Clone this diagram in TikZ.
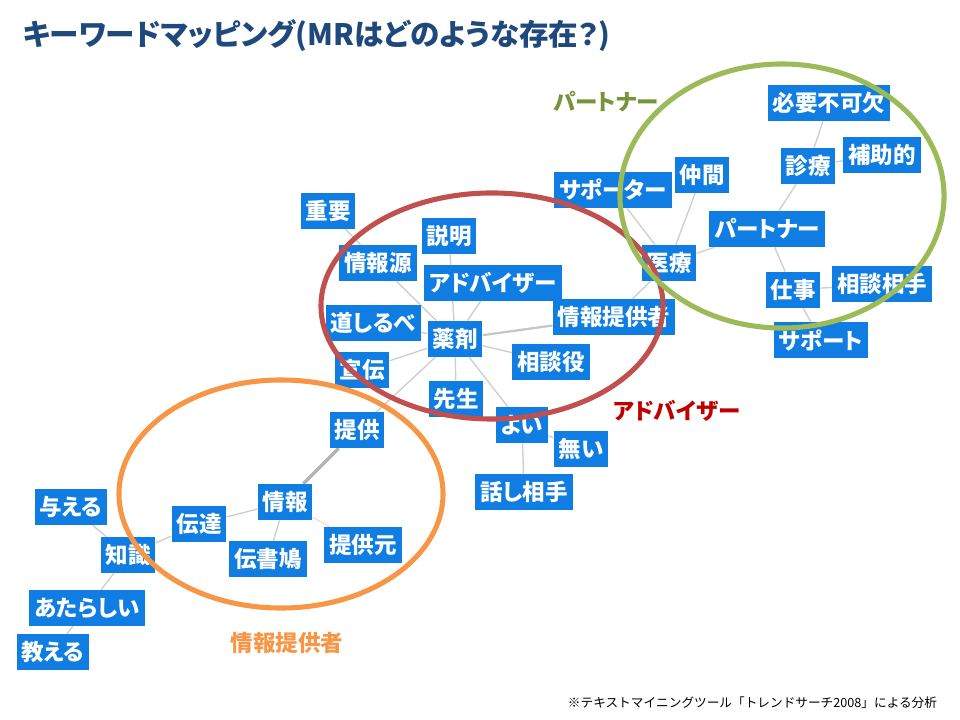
\documentclass[tikz,border=0pt]{standalone}
\usepackage{fontspec}
\usepackage{xcolor}
\newfontfamily\jpfont[RawFeature=+palt]{Noto Sans CJK JP}
\newfontfamily\notefont{Noto Sans CJK JP}
\usetikzlibrary{backgrounds}
\definecolor{kwblue}{HTML}{0F7DE2}
\definecolor{linkgray}{HTML}{CFCFCF}
\definecolor{titleblue}{HTML}{1F497D}
\definecolor{advring}{HTML}{C0504D}
\definecolor{advtext}{HTML}{C00000}
\definecolor{ptring}{HTML}{9BBB59}
\definecolor{pttext}{HTML}{77933C}
\definecolor{inforing}{HTML}{F79646}
\tikzset{
  kw/.style={rectangle, fill=kwblue, text=white, font=\jpfont\bfseries\fontsize{16}{18}\selectfont,
    minimum height=25.6pt, inner xsep=3.5pt, inner ysep=0pt},
  link/.style={draw=linkgray, line width=1pt},
  midlink/.style={draw=gray!45, line width=1.6pt},
  strong/.style={draw=gray!60, line width=2.4pt},
  ring/.style={line width=3.6pt},
  grp/.style={font=\jpfont\bfseries\fontsize{16}{18}\selectfont}
}

\begin{document}
\begin{tikzpicture}[x=0.025cm, y=-0.025cm]
\useasboundingbox (0,0) rectangle (960,720);
\node[anchor=west, text=titleblue, font=\jpfont\bfseries\fontsize{21}{25}\selectfont] (title) at (18,36)
  {キーワードマッピング(MRはどのような存在？)};
% adviser cluster
\node[kw] (juyo) at (328,211) {重要};
\node[kw] (setsumei) at (449,236) {説明};
\node[kw] (johogen) at (378,263) {情報源};
\node[kw] (adviser) at (493,283) {アドバイザー};
\node[kw] (michi) at (373,323) {道しるべ};
\node[kw] (yakuzai) at (455,339) {薬剤};
\node[kw] (teikyosha) at (614,317) {情報提供者};
\node[kw] (sodanyaku) at (551,362) {相談役};
\node[kw] (senden) at (362,370) {宣伝};
\node[kw] (sensei) at (456,399) {先生};
\node[kw] (yoi) at (522,425) {よい};
\node[kw] (nai) at (581,449) {無い};
\node[kw] (hanashi) at (524,492) {話し相手};
% information cluster
\node[kw] (teikyo) at (357,430) {提供};
\node[kw] (joho) at (285,502) {情報};
\node[kw] (dentatsu) at (199,524) {伝達};
\node[kw] (densho) at (268,559) {伝書鳩};
\node[kw] (teikyomoto) at (363,545) {提供元};
\node[kw] (ataeru) at (71,507) {与える};
\node[kw] (chishiki) at (128,555) {知識};
\node[kw] (atarashii) at (87,608) {あたらしい};
\node[kw] (oshieru) at (53,652) {教える};
% partner cluster
\node[kw] (supporter) at (613,190) {サポーター};
\node[kw] (nakama) at (702,175) {仲間};
\node[kw] (iryo) at (669,263) {医療};
\node[kw] (partner) at (767,229) {パートナー};
\node[kw] (hitsuyo) at (829,103) {必要不可欠};
\node[kw] (shinryo) at (808,166) {診療};
\node[kw] (hojo) at (882,155) {補助的};
\node[kw] (shigoto) at (793,290) {仕事};
\node[kw] (sodanaite) at (882,284) {相談相手};
\node[kw] (support) at (821,340) {サポート};

\begin{scope}[on background layer]
  \draw[link] (juyo) -- (johogen);
  \draw[link] (setsumei) -- (yakuzai);
  \draw[link] (adviser) -- (yakuzai);
  \draw[link] (johogen) -- (yakuzai);
  \draw[link] (michi) -- (yakuzai);
  \draw[midlink] (yakuzai) -- (teikyosha);
  \draw[link] (yakuzai) -- (sodanyaku);
  \draw[link] (yakuzai) -- (senden);
  \draw[link] (yakuzai) -- (sensei);
  \draw[link] (yakuzai) -- (yoi);
  \draw[link] (yakuzai) -- (teikyo);
  \draw[link] (yoi) -- (nai);
  \draw[link] (yoi) -- (hanashi);
  \draw[strong] (teikyo) -- (joho);
  \draw[link] (joho) -- (dentatsu);
  \draw[link] (joho) -- (densho);
  \draw[link, draw=red!15] (joho) -- (teikyomoto);
  \draw[link] (dentatsu) -- (chishiki);
  \draw[link] (chishiki) -- (ataeru);
  \draw[link] (chishiki) -- (atarashii);
  \draw[link] (atarashii) -- (oshieru);
  \draw[link] (teikyosha) -- (iryo);
  \draw[link] (iryo) -- (supporter);
  \draw[link] (iryo) -- (nakama);
  \draw[link] (iryo) -- (partner);
  \draw[link] (partner) -- (shinryo);
  \draw[link] (shinryo) -- (hitsuyo);
  \draw[link] (shinryo) -- (hojo);
  \draw[link] (partner) -- (shigoto);
  \draw[link] (shigoto) -- (sodanaite);
  \draw[link] (shigoto) -- (support);
\end{scope}

% group rings
\draw[ring, advring] (492,306) ellipse [x radius=4.275cm, y radius=2.825cm];
\draw[ring, ptring] (782,196) ellipse [x radius=4.05cm, y radius=3.3cm];
\draw[ring, inforing] (281,494) ellipse [x radius=4.05cm, y radius=2.85cm];
\node[grp, text=pttext] (lblpartner) at (606,102) {パートナー};
\node[grp, text=advtext] (lbladviser) at (677,411) {アドバイザー};
\node[grp, text=inforing] (lblinfo) at (287,643) {情報提供者};

\node[anchor=east, font=\notefont\fontsize{9}{11}\selectfont] (note) at (942,703)
  {※テキストマイニングツール「トレンドサーチ2008」による分析};
\end{tikzpicture}
\end{document}
